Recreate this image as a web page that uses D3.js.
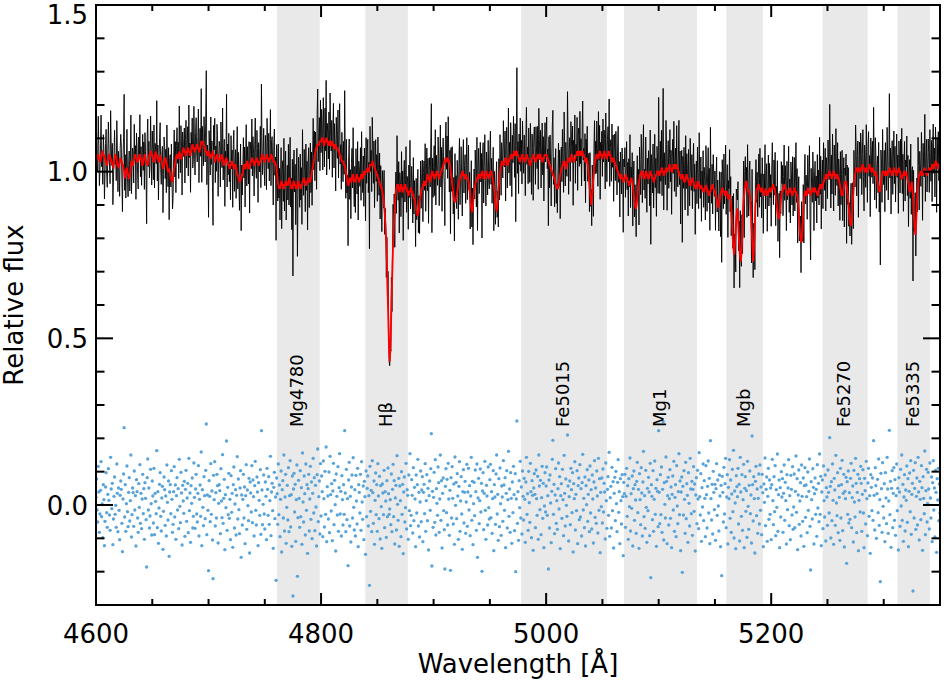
<!DOCTYPE html>
<html><head><meta charset="utf-8">
<script src="https://cdn.jsdelivr.net/npm/d3@7"></script>
<style>body{margin:0;background:#fff}svg{display:block}text{font-family:"DejaVu Sans",sans-serif;fill:#000}</style>
</head><body><svg id="c" width="944" height="684"></svg>
<script>
// Spectrum sampled every 0.5 A; each row holds 10 A (20 samples) starting at rowStart
const waveStart = 4600, waveEnd = 5350, rowWidth = 10, sampleStep = 0.5;

// best-fit model (red)
const modelRows = [
[1.03,1.04,1.04,1.05,1.05,1.04,1.04,1.03,1.03,1.04,1.05,1.06,1.06,1.05,1.05,1.04,1.04,1.03,1.03,1.02],
[1.02,1.03,1.04,1.05,1.05,1.04,1.04,1.03,1.03,1.02,1.02,1.01,1.03,1.04,1.05,1.05,1.04,1.03,1.02,1.02],
[1.01,1.02,1.03,1.04,1.04,1.03,1.03,1.02,1.02,1.01,1.00,0.98,0.99,1.00,1.01,1.01,1.00,0.99,0.98,0.98],
[0.99,1.00,1.02,1.03,1.03,1.02,1.02,1.03,1.04,1.05,1.05,1.04,1.04,1.03,1.03,1.03,1.04,1.05,1.05,1.04],
[1.04,1.03,1.02,1.02,1.03,1.04,1.05,1.05,1.04,1.03,1.03,1.02,1.02,1.03,1.04,1.05,1.05,1.06,1.06,1.05],
[1.05,1.04,1.03,1.03,1.04,1.05,1.06,1.05,1.05,1.04,1.04,1.03,1.03,1.04,1.05,1.04,1.04,1.03,1.02,1.01],
[1.01,1.02,1.03,1.04,1.04,1.03,1.02,1.01,1.00,1.00,1.01,1.00,0.99,0.98,0.98,0.97,0.97,0.98,1.00,1.01],
[1.02,1.03,1.04,1.05,1.05,1.04,1.04,1.05,1.06,1.05,1.05,1.04,1.04,1.05,1.06,1.07,1.07,1.06,1.06,1.05],
[1.05,1.06,1.06,1.07,1.07,1.06,1.06,1.05,1.05,1.06,1.07,1.08,1.08,1.07,1.07,1.06,1.06,1.07,1.07,1.08],
[1.08,1.07,1.07,1.06,1.06,1.07,1.08,1.09,1.09,1.09,1.09,1.08,1.08,1.07,1.07,1.06,1.06,1.05,1.05,1.06],
[1.06,1.05,1.05,1.04,1.04,1.05,1.05,1.06,1.06,1.05,1.05,1.03,1.03,1.04,1.04,1.05,1.05,1.04,1.04,1.03],
[1.03,1.04,1.04,1.05,1.05,1.04,1.03,1.02,1.02,1.03,1.03,1.04,1.04,1.03,1.03,1.02,1.02,1.01,1.01,1.02],
[1.02,1.03,1.03,1.02,1.02,1.01,1.01,1.02,1.02,1.01,1.00,0.99,0.99,0.98,0.98,0.97,0.97,0.98,0.98,0.99],
[0.99,1.00,1.01,1.02,1.02,1.01,1.01,1.02,1.03,1.03,1.02,1.01,1.01,1.02,1.02,1.03,1.03,1.04,1.04,1.03],
[1.03,1.02,1.02,1.03,1.03,1.04,1.04,1.03,1.03,1.02,1.02,1.03,1.03,1.04,1.04,1.05,1.05,1.04,1.04,1.03],
[1.03,1.04,1.04,1.05,1.05,1.04,1.04,1.03,1.03,1.04,1.04,1.05,1.05,1.04,1.04,1.03,1.03,1.03,1.03,1.02],
[1.02,1.00,0.99,0.97,0.96,0.95,0.95,0.95,0.96,0.97,0.97,0.96,0.96,0.95,0.95,0.96,0.96,0.97,0.97,0.96],
[0.96,0.96,0.97,0.98,0.98,0.97,0.96,0.95,0.95,0.95,0.96,0.97,0.97,0.96,0.96,0.95,0.95,0.95,0.96,0.97],
[0.97,0.96,0.96,0.95,0.95,0.96,0.96,0.97,0.97,0.98,0.98,0.97,0.97,0.96,0.96,0.97,0.97,0.98,0.98,0.97],
[0.97,0.97,0.98,0.99,1.00,1.01,1.02,1.03,1.04,1.05,1.06,1.07,1.07,1.08,1.08,1.08,1.08,1.09,1.09,1.09],
[1.09,1.10,1.10,1.10,1.09,1.08,1.08,1.09,1.09,1.10,1.10,1.09,1.09,1.08,1.08,1.09,1.09,1.08,1.08,1.09],
[1.09,1.08,1.08,1.07,1.07,1.08,1.08,1.07,1.07,1.07,1.07,1.06,1.06,1.05,1.05,1.04,1.04,1.03,1.03,1.03],
[1.03,1.02,1.02,1.01,1.00,0.99,0.98,0.97,0.96,0.96,0.97,0.98,0.98,0.97,0.97,0.98,0.99,0.99,0.98,0.97],
[0.97,0.97,0.98,0.99,0.99,0.98,0.98,0.97,0.97,0.98,0.98,0.99,0.99,0.98,0.98,0.99,1.00,1.00,0.99,1.00],
[1.00,1.00,1.01,1.01,1.00,1.00,1.01,1.02,1.02,1.02,1.02,1.03,1.03,1.02,1.02,1.01,1.01,1.00,1.00,0.99],
[0.99,0.98,0.98,0.97,0.97,0.96,0.96,0.95,0.95,0.94,0.93,0.92,0.90,0.88,0.85,0.82,0.78,0.73,0.66,0.59],
[0.52,0.46,0.43,0.46,0.52,0.59,0.66,0.72,0.78,0.82,0.86,0.89,0.92,0.94,0.95,0.96,0.96,0.96,0.95,0.94],
[0.94,0.95,0.96,0.96,0.95,0.94,0.94,0.95,0.95,0.96,0.96,0.95,0.95,0.94,0.94,0.93,0.93,0.94,0.94,0.95],
[0.95,0.94,0.94,0.93,0.93,0.92,0.92,0.91,0.90,0.89,0.88,0.87,0.87,0.88,0.89,0.91,0.92,0.93,0.94,0.95],
[0.95,0.96,0.96,0.97,0.97,0.96,0.96,0.97,0.98,0.99,0.99,0.98,0.98,0.97,0.97,0.98,0.99,1.00,1.00,0.99],
[0.99,0.98,0.98,0.99,0.99,1.00,1.00,0.99,0.99,0.98,0.98,0.99,0.99,1.00,1.00,1.01,1.01,1.02,1.02,1.03],
[1.03,1.04,1.04,1.03,1.03,1.04,1.04,1.03,1.03,1.02,1.01,0.99,0.98,0.96,0.95,0.93,0.92,0.91,0.91,0.91],
[0.92,0.93,0.94,0.95,0.96,0.97,0.97,0.98,0.98,0.99,0.99,1.00,1.00,0.99,0.99,0.98,0.98,0.99,0.99,0.98],
[0.98,0.98,0.97,0.96,0.94,0.92,0.90,0.89,0.88,0.88,0.90,0.92,0.94,0.95,0.96,0.97,0.97,0.98,0.98,0.99],
[0.99,0.99,0.98,0.98,0.99,0.99,1.00,1.00,0.99,0.98,0.98,0.98,0.99,1.00,1.00,0.99,0.99,0.98,0.98,0.99],
[0.99,1.00,1.00,1.00,0.99,0.98,0.97,0.96,0.94,0.92,0.90,0.89,0.88,0.89,0.91,0.94,0.96,0.98,1.00,1.01],
[1.02,1.03,1.03,1.03,1.02,1.02,1.03,1.04,1.04,1.04,1.03,1.02,1.02,1.03,1.03,1.04,1.04,1.05,1.05,1.04],
[1.04,1.05,1.05,1.06,1.06,1.05,1.05,1.06,1.06,1.05,1.05,1.04,1.04,1.03,1.03,1.04,1.04,1.05,1.05,1.04],
[1.04,1.03,1.03,1.04,1.04,1.05,1.05,1.04,1.04,1.03,1.03,1.02,1.02,1.03,1.03,1.04,1.04,1.05,1.05,1.04],
[1.04,1.03,1.03,1.04,1.04,1.05,1.05,1.04,1.04,1.05,1.05,1.04,1.04,1.03,1.03,1.04,1.04,1.05,1.05,1.05],
[1.05,1.05,1.04,1.04,1.03,1.03,1.02,1.02,1.01,1.01,1.00,1.00,0.99,0.99,0.98,0.98,0.97,0.96,0.96,0.95],
[0.95,0.95,0.96,0.97,0.98,0.99,1.00,1.01,1.01,1.02,1.02,1.03,1.03,1.03,1.02,1.01,1.01,1.02,1.03,1.04],
[1.04,1.04,1.03,1.03,1.04,1.05,1.05,1.04,1.04,1.03,1.03,1.04,1.04,1.05,1.05,1.06,1.06,1.05,1.05,1.06],
[1.06,1.06,1.05,1.05,1.06,1.06,1.05,1.05,1.04,1.03,1.03,1.04,1.04,1.03,1.02,1.00,0.98,0.96,0.94,0.92],
[0.90,0.91,0.93,0.96,0.98,1.00,1.02,1.03,1.04,1.05,1.05,1.05,1.04,1.04,1.05,1.06,1.06,1.05,1.05,1.04],
[1.04,1.05,1.05,1.06,1.06,1.05,1.05,1.04,1.04,1.05,1.05,1.06,1.06,1.05,1.05,1.04,1.04,1.03,1.03,1.04],
[1.04,1.03,1.03,1.02,1.02,1.01,1.01,1.00,1.00,0.99,0.99,0.98,0.98,0.99,0.99,0.98,0.98,0.97,0.97,0.98],
[0.98,0.99,0.99,0.98,0.98,0.97,0.97,0.96,0.96,0.97,0.97,0.98,0.98,0.97,0.96,0.94,0.93,0.91,0.90,0.89],
[0.89,0.90,0.92,0.94,0.96,0.97,0.98,0.99,0.99,1.00,1.00,1.00,0.99,0.98,0.98,0.98,0.99,1.00,1.00,0.99],
[0.99,0.98,0.98,0.98,0.99,1.00,1.00,0.99,0.99,0.98,0.98,0.97,0.97,0.98,0.98,0.99,0.99,1.00,1.00,1.00],
[1.00,0.99,0.99,1.00,1.00,1.01,1.01,1.00,1.00,0.99,0.99,1.00,1.00,1.01,1.01,1.00,1.00,1.01,1.01,1.02],
[1.02,1.01,1.01,1.00,1.00,1.01,1.01,1.02,1.02,1.01,1.01,1.02,1.02,1.01,1.01,1.00,1.00,0.99,0.99,0.98],
[0.98,0.98,0.99,0.99,0.98,0.97,0.97,0.97,0.98,0.99,0.99,0.98,0.98,0.97,0.97,0.96,0.96,0.96,0.97,0.98],
[0.98,0.97,0.97,0.96,0.96,0.95,0.95,0.95,0.96,0.97,0.97,0.96,0.96,0.95,0.95,0.95,0.96,0.95,0.95,0.94],
[0.94,0.94,0.95,0.95,0.96,0.95,0.95,0.94,0.94,0.93,0.93,0.94,0.94,0.95,0.95,0.96,0.96,0.95,0.95,0.94],
[0.94,0.93,0.93,0.92,0.91,0.90,0.89,0.90,0.91,0.92,0.93,0.94,0.94,0.95,0.95,0.94,0.94,0.93,0.93,0.94],
[0.94,0.94,0.93,0.92,0.92,0.93,0.93,0.92,0.91,0.89,0.86,0.82,0.79,0.77,0.75,0.77,0.79,0.83,0.86,0.88],
[0.89,0.86,0.82,0.79,0.76,0.74,0.73,0.75,0.78,0.83,0.88,0.91,0.93,0.95,0.96,0.97,0.97,0.96,0.95,0.94],
[0.94,0.94,0.93,0.91,0.88,0.84,0.80,0.76,0.73,0.76,0.80,0.85,0.90,0.92,0.94,0.95,0.95,0.96,0.96,0.95],
[0.95,0.94,0.94,0.95,0.95,0.94,0.94,0.93,0.93,0.94,0.95,0.94,0.94,0.93,0.93,0.94,0.94,0.95,0.95,0.94],
[0.94,0.95,0.95,0.96,0.96,0.95,0.95,0.94,0.93,0.91,0.90,0.88,0.87,0.86,0.86,0.87,0.89,0.91,0.93,0.94],
[0.94,0.95,0.95,0.96,0.96,0.95,0.95,0.94,0.94,0.93,0.93,0.94,0.94,0.95,0.95,0.94,0.94,0.93,0.93,0.94],
[0.94,0.95,0.95,0.94,0.94,0.93,0.93,0.92,0.90,0.88,0.85,0.82,0.80,0.79,0.79,0.81,0.84,0.88,0.91,0.93],
[0.94,0.94,0.93,0.93,0.94,0.95,0.95,0.94,0.94,0.93,0.93,0.94,0.94,0.95,0.95,0.94,0.94,0.95,0.95,0.94],
[0.94,0.94,0.93,0.93,0.94,0.95,0.95,0.96,0.96,0.95,0.95,0.96,0.96,0.97,0.97,0.98,0.98,0.99,0.99,0.98],
[0.98,0.99,0.99,1.00,1.00,0.99,0.99,0.98,0.98,0.99,0.99,1.00,1.00,0.99,0.99,0.98,0.98,0.99,0.99,0.98],
[0.98,0.97,0.96,0.95,0.94,0.93,0.93,0.93,0.94,0.95,0.96,0.97,0.97,0.97,0.96,0.95,0.93,0.91,0.89,0.87],
[0.85,0.84,0.84,0.85,0.88,0.91,0.94,0.96,0.98,0.99,1.00,1.01,1.01,1.01,1.00,1.00,1.01,1.01,1.00,1.00],
[1.01,1.01,1.02,1.02,1.01,1.01,1.00,1.00,1.01,1.01,1.00,1.00,1.01,1.01,1.02,1.02,1.01,1.01,1.00,1.00],
[1.01,1.01,1.00,1.00,0.99,0.99,1.00,0.99,0.98,0.97,0.96,0.95,0.94,0.94,0.95,0.97,0.98,0.99,1.00,1.00],
[1.00,1.00,0.99,0.99,1.00,1.00,0.99,0.99,1.00,1.00,1.01,1.01,1.00,1.00,0.99,0.99,1.00,1.00,1.01,1.01],
[1.00,1.00,0.99,0.99,1.00,1.00,1.01,1.01,1.00,1.00,0.99,0.98,0.98,0.98,0.99,0.99,1.00,1.00,0.99,0.99],
[1.00,0.99,0.98,0.97,0.96,0.95,0.94,0.94,0.95,0.96,0.97,0.95,0.93,0.90,0.86,0.83,0.81,0.82,0.86,0.90],
[0.94,0.96,0.98,0.99,0.99,1.00,1.00,1.00,0.99,0.99,1.00,1.00,1.01,1.01,1.00,1.00,0.99,0.99,1.00,1.00],
[1.01,1.01,1.00,1.00,1.01,1.01,1.02,1.02,1.01,1.01,1.02,1.02,1.03,1.03,1.02,1.02,1.01,1.01,1.02,1.02],
[1.03]];

// residuals, observed minus model (blue points)
const residualRows = [
[0.023,0.078,-0.015,-0.051,0.116,0.039,-0.082,-0.027,0.044,0.130,-0.035,0.003,-0.098,0.061,0.016,-0.122,-0.049,0.054,0.097,-0.023],
[-0.067,0.032,0.109,0.014,-0.030,-0.076,0.143,0.048,-0.011,0.065,-0.119,-0.042,0.026,0.084,-0.028,-0.001,-0.067,0.123,0.035,-0.080],
[0.051,-0.016,-0.104,0.029,0.072,0.047,-0.055,-0.140,0.018,0.093,0.232,-0.036,0.061,-0.079,0.004,0.117,-0.020,-0.065,0.038,0.082],
[-0.048,0.013,0.150,-0.096,-0.029,0.051,0.037,-0.064,0.102,-0.015,0.028,-0.123,0.076,0.040,-0.039,-0.082,0.064,-0.007,0.121,-0.055],
[0.035,-0.071,0.018,0.092,-0.026,0.049,-0.103,0.067,0.020,-0.044,-0.186,0.082,0.138,-0.015,0.051,-0.069,-0.033,0.107,0.004,-0.090],
[0.072,0.027,-0.054,0.110,-0.089,0.035,0.011,-0.026,0.163,-0.068,0.040,-0.115,-0.009,0.062,0.097,-0.034,-0.078,0.021,0.056,-0.133],
[-0.019,0.084,0.046,-0.061,0.027,-0.093,0.120,0.008,-0.045,0.072,-0.154,0.039,0.061,-0.026,0.103,0.017,-0.082,-0.058,0.040,0.115],
[-0.036,0.060,-0.103,0.028,0.082,-0.015,0.049,-0.071,0.137,-0.004,-0.053,0.098,0.036,-0.120,0.059,0.012,-0.025,0.071,-0.094,0.047],
[0.104,-0.049,0.021,0.065,-0.083,0.140,-0.017,0.036,-0.112,0.058,0.005,0.081,-0.069,-0.034,0.126,0.023,-0.070,0.048,0.092,-0.027],
[-0.051,0.035,0.118,-0.093,0.017,0.060,-0.034,0.159,-0.122,0.046,-0.007,-0.062,0.085,0.028,-0.041,0.104,0.243,-0.089,0.030,-0.016],
[-0.197,0.073,0.026,-0.050,0.124,-0.028,0.042,-0.105,-0.221,0.089,0.016,0.130,-0.063,0.037,-0.039,0.092,0.058,-0.114,0.005,0.061],
[0.043,-0.086,0.109,0.012,-0.038,0.151,-0.055,0.020,0.077,-0.134,0.031,-0.008,0.192,-0.076,0.053,-0.029,0.095,-0.040,0.017,-0.104],
[0.088,-0.022,0.035,-0.127,0.061,0.114,-0.069,0.003,0.046,-0.090,0.029,0.145,-0.042,0.078,-0.014,-0.086,0.051,0.103,-0.157,0.030],
[-0.060,0.017,0.092,-0.039,0.054,-0.116,0.028,0.121,-0.073,0.045,-0.002,-0.047,0.080,-0.144,0.069,0.036,-0.021,0.118,-0.053,0.075],
[0.025,-0.093,0.058,0.131,-0.016,-0.060,0.084,0.039,-0.122,0.067,0.014,-0.031,0.106,-0.088,0.223,0.045,-0.059,0.002,0.090,-0.027],
[-0.072,0.069,0.026,-0.104,0.110,0.047,-0.031,0.085,-0.058,0.013,0.146,-0.092,0.039,0.065,-0.017,-0.130,0.053,0.098,-0.041,0.024],
[-0.226,0.081,0.034,-0.058,0.123,-0.029,0.060,-0.095,0.017,0.102,-0.141,0.046,0.073,-0.039,0.150,-0.078,0.024,0.092,-0.115,-0.007],
[0.059,-0.045,0.112,-0.080,0.028,0.133,-0.066,0.031,-0.124,0.087,-0.273,0.048,0.095,-0.021,0.062,-0.109,0.016,0.120,-0.214,-0.038],
[0.074,0.020,-0.067,0.103,-0.035,0.052,-0.118,0.156,0.009,-0.051,0.087,0.034,-0.090,0.123,-0.016,0.061,-0.145,0.049,0.092,-0.078],
[0.018,0.116,-0.043,0.069,-0.101,0.035,0.140,-0.024,0.082,-0.077,0.059,-0.006,-0.123,0.091,0.168,-0.050,0.025,0.072,-0.087,0.124],
[-0.033,0.087,0.040,-0.095,0.132,0.019,-0.066,0.101,-0.028,0.174,-0.110,0.055,0.027,-0.042,0.099,-0.083,0.146,0.031,-0.018,0.064],
[-0.107,0.042,0.125,-0.059,0.074,0.001,-0.138,0.093,0.026,-0.030,0.115,-0.079,0.052,0.154,-0.027,0.041,-0.093,0.088,0.016,-0.060],
[0.061,-0.028,0.223,0.036,-0.080,0.107,-0.044,0.019,-0.182,0.075,0.128,-0.063,0.026,-0.111,0.054,0.090,-0.039,0.142,-0.007,-0.075],
[0.046,-0.093,0.089,0.012,-0.057,0.110,-0.125,0.061,0.038,-0.024,0.092,-0.076,0.130,0.009,-0.043,0.057,-0.104,0.071,0.025,-0.148],
[0.102,-0.035,0.050,0.087,-0.063,0.028,-0.241,0.116,-0.019,0.044,-0.080,0.133,0.037,-0.055,0.072,-0.118,0.014,0.096,-0.029,0.061],
[-0.079,0.124,0.027,-0.041,0.086,-0.102,0.058,-0.005,-0.130,0.063,0.036,-0.029,0.104,-0.068,0.040,0.012,-0.097,0.073,-0.035,0.111],
[0.034,-0.028,-0.012,0.016,-0.059,0.093,-0.080,0.047,0.122,-0.035,0.073,-0.117,0.021,0.059,-0.075,0.148,0.002,-0.046,0.080,-0.124],
[0.057,0.013,-0.095,0.100,-0.028,0.062,-0.146,0.039,0.084,-0.051,-0.008,0.125,-0.072,0.046,0.029,-0.103,0.090,-0.017,0.154,-0.062],
[-0.031,0.076,0.029,-0.084,0.112,-0.047,0.053,0.018,-0.125,0.090,-0.024,0.061,0.137,-0.063,0.038,-0.096,0.009,0.102,-0.050,0.045],
[0.085,-0.110,0.038,0.062,-0.026,0.124,-0.079,0.013,0.091,-0.047,0.050,-0.135,0.028,0.072,-0.016,0.109,0.214,-0.183,0.041,-0.067],
[0.023,0.098,-0.052,0.136,-0.090,0.049,0.005,-0.031,0.114,0.067,-0.082,0.018,0.150,-0.046,0.073,-0.129,0.035,0.081,-0.017,-0.074],
[-0.192,0.056,0.109,-0.023,0.077,-0.060,0.125,0.018,-0.091,0.044,-0.196,0.082,-0.039,0.115,0.020,-0.057,0.063,-0.118,0.144,-0.001],
[0.068,-0.041,0.094,0.027,-0.103,0.056,0.130,-0.079,0.012,0.085,-0.027,-0.133,0.040,0.106,-0.054,0.038,0.071,-0.085,0.009,0.122],
[-0.064,0.039,0.110,-0.015,0.058,-0.092,0.027,0.143,-0.046,0.071,-0.119,0.004,0.068,-0.032,0.105,0.040,-0.076,0.123,-0.157,0.021],
[0.080,-0.056,0.013,0.108,-0.021,0.065,-0.199,0.042,0.097,-0.074,0.035,0.131,-0.016,-0.103,0.059,0.027,-0.060,0.114,-0.008,-0.042],
[0.076,0.122,-0.038,0.040,-0.085,0.019,0.103,-0.137,0.061,0.024,-0.058,0.093,0.150,-0.027,0.032,-0.106,0.079,-0.065,0.111,0.004],
[-0.091,0.057,0.024,-0.049,0.133,0.060,-0.016,0.082,-0.128,0.035,0.103,-0.069,0.016,0.161,-0.034,0.048,-0.082,0.097,0.020,-0.115],
[0.069,-0.023,0.116,0.031,-0.077,0.094,-0.200,0.018,0.252,-0.055,0.040,-0.106,0.073,-0.008,0.131,-0.039,0.054,-0.087,0.102,0.026],
[-0.045,0.080,0.017,-0.112,0.069,0.143,-0.028,0.034,-0.076,0.101,0.007,-0.052,0.125,0.040,-0.098,0.073,0.029,-0.136,0.051,0.094],
[0.032,-0.068,0.105,0.019,-0.031,0.086,-0.103,0.150,0.057,-0.014,0.074,-0.089,0.022,0.116,-0.040,0.065,-0.128,-0.003,0.097,-0.021],
[0.057,0.114,-0.031,0.028,-0.192,0.075,-0.069,0.090,0.006,-0.113,0.041,0.137,0.194,-0.028,0.062,-0.086,0.030,0.109,-0.055,0.013],
[-0.073,0.049,0.126,-0.012,0.085,-0.131,0.028,0.064,-0.040,0.107,0.016,-0.092,0.149,0.035,-0.063,0.078,-0.001,-0.034,0.210,0.057],
[-0.108,0.025,0.072,-0.059,0.110,0.046,-0.023,0.097,-0.141,0.064,0.019,0.130,-0.075,0.032,-0.017,0.103,-0.116,0.058,0.081,-0.044],
[0.121,-0.036,0.049,-0.093,0.067,0.152,-0.015,0.020,-0.068,0.084,-0.123,0.058,0.001,0.106,-0.049,0.032,0.075,-0.080,0.117,-0.024],
[0.046,-0.072,0.090,0.018,-0.114,0.069,0.133,-0.037,0.051,-0.055,0.102,0.027,-0.084,0.140,-0.016,0.079,-0.143,0.038,-0.005,0.081],
[-0.054,0.108,-0.021,0.065,0.039,-0.102,0.126,0.013,-0.070,0.047,0.085,-0.031,0.158,-0.094,0.022,0.056,-0.069,0.113,-0.017,0.070],
[-0.129,0.035,0.083,-0.047,0.101,0.004,-0.080,0.068,0.136,-0.022,0.040,-0.116,0.079,0.013,-0.057,0.091,0.025,-0.152,0.068,0.034],
[0.092,-0.067,0.026,0.110,-0.034,0.058,-0.103,0.079,-0.005,0.141,-0.078,0.034,-0.010,0.087,-0.123,0.049,0.102,-0.046,0.061,0.015],
[-0.085,0.071,0.128,-0.023,0.047,-0.130,0.094,0.016,-0.059,0.112,0.036,-0.093,0.069,0.161,-0.035,0.028,-0.070,0.104,-0.007,-0.112],
[0.050,-0.017,0.083,0.039,-0.092,0.125,-0.218,0.061,0.026,-0.044,0.103,-0.079,0.017,0.132,-0.028,0.050,-0.124,0.076,0.041,-0.065],
[0.223,0.038,-0.056,0.091,-0.029,0.114,-0.082,0.047,0.250,-0.105,0.067,0.002,-0.039,0.144,0.071,-0.116,0.028,0.083,-0.060,0.019],
[0.106,-0.040,0.054,-0.128,0.032,0.087,-0.015,0.131,-0.079,0.023,0.061,-0.095,0.118,-0.003,-0.056,0.040,0.154,-0.029,0.072,-0.137],
[0.039,0.084,-0.202,0.056,-0.030,0.103,0.017,-0.085,0.128,-0.041,0.064,0.029,-0.112,0.097,0.005,-0.063,0.140,0.048,-0.026,0.071],
[-0.091,0.047,0.115,-0.019,0.063,-0.138,0.030,0.082,-0.056,0.104,0.018,-0.071,0.157,0.025,-0.030,0.094,-0.109,0.052,-0.006,0.123],
[-0.047,0.073,0.020,-0.095,0.118,0.031,-0.069,0.056,0.132,-0.024,0.080,-0.116,0.193,0.019,-0.045,0.062,-0.087,0.101,0.038,-0.014],
[0.062,-0.106,0.049,0.124,-0.031,0.075,-0.003,-0.078,0.090,0.027,-0.125,0.059,-0.212,0.086,0.038,-0.051,0.113,-0.027,0.064,0.140],
[-0.068,0.024,0.091,-0.117,0.053,0.019,0.136,-0.040,0.075,-0.082,0.033,0.107,-0.020,0.164,-0.099,0.042,0.006,-0.131,0.088,0.055],
[0.025,0.110,-0.057,0.062,-0.108,0.143,0.039,-0.034,0.091,-0.076,0.016,0.122,-0.128,0.050,0.085,-0.019,0.043,-0.097,0.131,-0.004],
[-0.073,0.059,0.102,-0.026,0.030,-0.114,0.207,0.061,-0.048,0.085,0.019,-0.144,0.071,0.116,-0.032,0.048,-0.085,0.020,0.093,-0.057],
[0.120,-0.016,0.054,-0.089,0.092,0.037,-0.125,0.063,0.008,0.141,-0.062,0.047,0.084,-0.109,0.026,0.110,-0.043,0.075,-0.028,0.051],
[-0.104,0.061,0.137,0.013,-0.059,0.085,-0.020,0.118,-0.092,0.046,-0.007,0.153,-0.079,0.031,0.075,-0.128,0.052,-0.036,0.100,0.024],
[0.079,-0.082,0.035,0.120,-0.046,0.068,0.013,-0.117,0.091,-0.014,0.051,0.136,-0.062,0.028,-0.104,0.089,0.047,-0.030,0.115,-0.073],
[-0.006,0.093,-0.068,0.041,0.147,-0.022,0.079,-0.134,0.030,0.105,-0.058,0.012,0.067,-0.093,0.120,0.026,-0.049,0.081,-0.124,0.058],
[0.112,-0.037,0.060,0.025,-0.083,0.099,-0.016,0.041,0.138,-0.064,-0.195,0.070,0.016,-0.042,0.109,0.053,-0.117,0.034,0.081,-0.028],
[0.047,-0.094,0.121,-0.009,0.065,-0.050,0.153,-0.028,0.086,-0.122,0.039,0.075,-0.071,0.117,0.013,-0.036,0.090,-0.108,0.052,0.024],
[-0.061,0.105,0.038,-0.024,0.202,0.056,-0.099,0.070,-0.047,0.123,0.014,-0.118,0.080,0.045,-0.061,0.149,0.006,-0.032,0.097,-0.083],
[0.058,0.023,-0.106,0.110,-0.039,0.061,0.134,-0.077,0.035,0.092,-0.126,0.041,0.019,0.083,-0.175,0.070,-0.028,0.102,-0.054,0.037],
[-0.043,0.080,0.125,-0.068,0.022,0.057,-0.111,0.104,0.009,-0.036,0.140,0.065,-0.083,0.038,0.092,-0.137,0.014,0.079,-0.021,0.116],
[0.065,-0.079,0.032,0.106,-0.024,-0.128,0.080,0.043,-0.057,0.131,0.019,-0.092,0.066,0.110,-0.034,0.028,-0.145,0.091,0.053,-0.017],
[0.081,-0.046,0.193,0.029,-0.075,0.112,0.058,-0.100,0.034,0.077,-0.023,0.138,-0.061,0.016,-0.230,0.095,0.049,-0.082,0.127,-0.004],
[-0.039,0.064,-0.110,0.097,0.021,-0.056,0.143,0.048,-0.085,0.012,0.224,-0.029,0.071,-0.127,0.050,0.103,-0.068,0.035,0.112,-0.046],
[0.076,-0.091,0.028,0.123,-0.017,0.050,-0.135,0.082,0.039,-0.064,0.107,-0.003,0.150,-0.046,0.062,-0.109,0.024,0.091,-0.078,0.045],
[0.014,0.117,-0.052,0.079,-0.125,0.041,0.096,-0.020,0.133,-0.088,0.032,0.065,-0.258,0.104,-0.039,0.050,0.127,-0.073,0.026,0.081],
[-0.060,0.143,0.039,-0.105,0.071,0.017,-0.044,0.118,0.052,-0.136,0.085,0.020,-0.026,0.162,-0.089,0.043,0.107,-0.051,0.004,0.098],
[0.048,-0.072,0.126,0.021,-0.039,0.084,-0.110,0.067,0.133,-0.015,0.051,-0.096,0.104,0.038,-0.142,0.079,0.015,0.110,-0.047,0.063],
[-0.024]];

// Index passbands (grey) and their names
const bandNames = ["Mg4780","Hβ","Fe5015","Mg1","Mgb","Fe5270","Fe5335"];
const bandStart = [4760.78,4839.28,4977.75,5069.13,5160.13,5245.65,5312.13];
const bandEnd   = [4798.88,4877.10,5054.00,5134.13,5192.63,5285.65,5341.00];

const xMajorTicks = [4600,4800,5000,5200];
const yMajorTicks = [0.0,0.5,1.0,1.5];

// ---------- drawing ----------
const L = 96, R = 940, T = 5, B = 605;
const svg = d3.select("#c");
const x = d3.scaleLinear().domain([waveStart, waveEnd]).range([L, R]);
const y = d3.scaleLinear().domain([-0.3, 1.5]).range([B, T]);

const pts = [];
modelRows.forEach((row, r) => {
  const res = residualRows[r] || [];
  const n = Math.min(row.length, res.length);
  for (let k = 0; k < n; k++) {
    pts.push({w: waveStart + r*rowWidth + k*sampleStep, m: row[k], r: res[k], f: row[k] + res[k]});
  }
});

svg.append("defs").append("clipPath").attr("id","clip")
  .append("rect").attr("x",L).attr("y",T).attr("width",R-L).attr("height",B-T);
const plot = svg.append("g").attr("clip-path","url(#clip)");

plot.selectAll("rect.band").data(bandNames).join("rect").attr("class","band")
  .attr("x",(d,i)=>x(bandStart[i])).attr("width",(d,i)=>x(bandEnd[i])-x(bandStart[i]))
  .attr("y",T).attr("height",B-T).attr("fill","#e9e9e9");

svg.selectAll("text.bl").data(bandNames).join("text").attr("class","bl")
  .attr("transform",(d,i)=>`translate(${x((bandStart[i]+bandEnd[i])/2)},427) rotate(-90)`)
  .attr("dy","0.28em").attr("font-size",18).text(d=>d);

plot.append("path").datum(pts)
  .attr("d", d3.line().x(d=>x(d.w)).y(d=>y(d.f)))
  .attr("fill","none").attr("stroke","#000").attr("stroke-width",0.9);

plot.append("path").datum(pts)
  .attr("d", d3.line().x(d=>x(d.w)).y(d=>y(d.m)))
  .attr("fill","none").attr("stroke","#ff0000").attr("stroke-width",1.8);

plot.selectAll("circle").data(pts).join("circle")
  .attr("cx",d=>x(d.w)).attr("cy",d=>y(d.r)).attr("r",1.65).attr("fill","#58a3da");

const ax = svg.append("g");
ax.append("rect").attr("x",L).attr("y",T).attr("width",R-L).attr("height",B-T)
  .attr("fill","none").attr("stroke","#000").attr("stroke-width",2);

const xMinor = d3.range(waveStart, waveEnd + 1, 50);
xMinor.forEach(v => {
  const len = xMajorTicks.includes(v) ? 12 : 6;
  ax.append("line").attr("x1",x(v)).attr("x2",x(v)).attr("y1",B).attr("y2",B-len).attr("stroke","#000").attr("stroke-width",2);
  ax.append("line").attr("x1",x(v)).attr("x2",x(v)).attr("y1",T).attr("y2",T+len).attr("stroke","#000").attr("stroke-width",2);
});
const yMinor = d3.range(-3, 16).map(k => k/10);
yMinor.forEach(v => {
  const major = yMajorTicks.some(t => Math.abs(t-v) < 1e-9);
  const len = major ? 17 : 8.5;
  ax.append("line").attr("x1",L).attr("x2",L+len).attr("y1",y(v)).attr("y2",y(v)).attr("stroke","#000").attr("stroke-width",2);
  ax.append("line").attr("x1",R).attr("x2",R-len).attr("y1",y(v)).attr("y2",y(v)).attr("stroke","#000").attr("stroke-width",2);
});

svg.selectAll("text.xt").data(xMajorTicks).join("text").attr("class","xt")
  .attr("x",d=>x(d)).attr("y",643).attr("text-anchor","middle").attr("font-size",26).text(d=>d);
svg.selectAll("text.yt").data(yMajorTicks).join("text").attr("class","yt")
  .attr("x",88).attr("y",d=>Math.max(y(d)+9.5, T+18.5)).attr("text-anchor","end").attr("font-size",26)
  .text(d=>d3.format(".1f")(d));

svg.append("text").attr("x",(L+R)/2).attr("y",673).attr("text-anchor","middle").attr("font-size",26).text("Wavelength [Å]");
svg.append("text").attr("transform",`translate(23,${(T+B)/2}) rotate(-90)`).attr("text-anchor","middle").attr("font-size",26).text("Relative flux");
</script></body></html>
